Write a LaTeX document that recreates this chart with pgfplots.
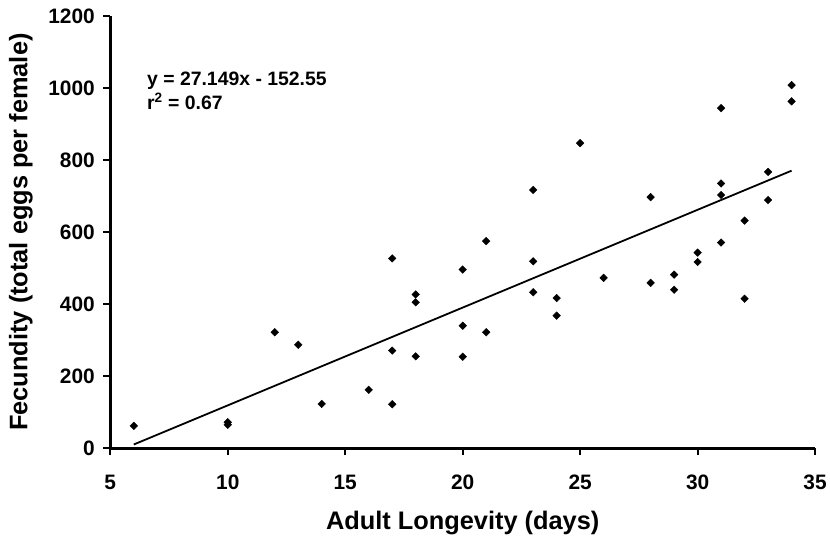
\documentclass[border=0pt]{standalone}
\usepackage{fontspec}
\setmainfont{Liberation Sans}
\usepackage{pgfplots}
\usepackage{pgfplotstable}
\pgfplotsset{compat=1.18}
\pgfplotstableread{
x y
6 62
10 65
10 72
12 322
13 287
14 123
16 162
17 527
17 271
17 122
18 427
18 405
18 255
20 496
20 340
20 254
21 575
21 322
23 717
23 519
23 433
24 417
24 368
25 847
26 473
28 697
28 459
29 482
29 440
30 543
30 517
31 944
31 735
31 703
31 571
32 632
32 415
33 767
33 689
34 1008
34 963
}\datatable
\pgfplotstableread{
x y
6 10.344
34 770.516
}\fittable
\begin{document}
\begin{tikzpicture}[font=\bfseries]
\begin{axis}[
  scale only axis, width=706bp, height=433bp,
  xmin=5, xmax=35, ymin=0, ymax=1200,
  xtick={5,10,...,35}, ytick={0,200,...,1200},
  axis x line=bottom, axis y line=left,
  axis line style={line width=2.6bp, -},
  tick style={black, line width=1.8bp},
  major tick length=7bp, tick align=outside,
  /pgf/number format/assume math mode=true,
  /pgf/number format/1000 sep={},
  ticklabel style={font=\fontsize{21}{21}\selectfont\bfseries},
  xticklabel style={yshift=-16bp},
  yticklabel style={xshift=-5bp},
  xlabel={Adult Longevity (days)},
  ylabel={Fecundity (total eggs per female)},
  label style={font=\fontsize{25.5}{25.5}\selectfont\bfseries},
  xlabel style={at={(axis description cs:0.5,-0.172)}, anchor=center},
  ylabel style={at={(axis description cs:-0.127,0.5)}, anchor=center, rotate=0},
  clip=false,
]
\addplot[only marks, mark=square*, mark options={rotate=45, fill=black, draw=black}, mark size=2.7bp] table[x=x,y=y] {\datatable};
\addplot[black, line width=1.8bp] table[x=x,y=y] {\fittable};
\node[anchor=north west, align=left, inner sep=0pt, font=\fontsize{19.5}{25}\selectfont\bfseries] at (axis description cs:0.052,0.872) {y = 27.149x - 152.55\\r\textsuperscript{2} = 0.67};
\end{axis}
\path ([xshift=-110.5bp,yshift=-87bp]current axis.south west) rectangle ([xshift=14bp,yshift=16bp]current axis.north east);
\end{tikzpicture}
\end{document}
